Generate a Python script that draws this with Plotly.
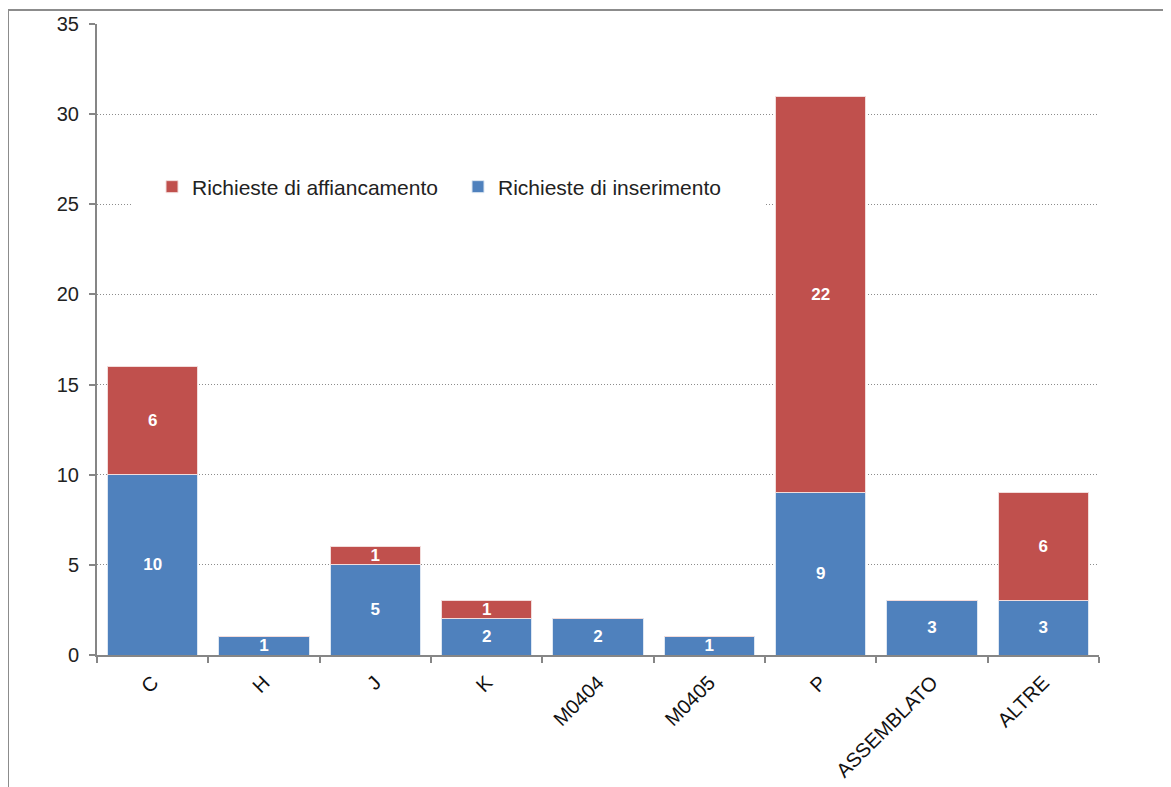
import plotly.graph_objects as go

categories = ["C", "H", "J", "K", "M0404", "M0405", "P", "ASSEMBLATO", "ALTRE"]
inserimento = [10, 1, 5, 2, 2, 1, 9, 3, 3]
affiancamento = [6, 0, 1, 1, 0, 0, 22, 0, 6]
y_ticks = [0, 5, 10, 15, 20, 25, 30, 35]

OFF = 8  # page body margin
W, H = 1171 - OFF, 787 - OFF
L, R, T, B = 97 - OFF, 72, 24 - OFF, 132
pw, ph = W - L - R, H - T - B

def sx(px):  # screen x -> paper
    return (px - OFF - L) / pw

def sy(py):  # screen y -> paper
    return (T + ph - (py - OFF)) / ph

def lbl(vals):
    return [str(v) if v else "" for v in vals]

txtfont = dict(color="white", size=17, family="Liberation Sans", weight="bold")

fig = go.Figure()
fig.add_trace(go.Bar(
    x=categories, y=inserimento, name="Richieste di inserimento",
    marker=dict(color="#4F81BD", line=dict(color="#DCE6F2", width=1)),
    text=lbl(inserimento), textposition="inside", insidetextanchor="middle",
    textangle=0, textfont=txtfont,
))
fig.add_trace(go.Bar(
    x=categories, y=affiancamento, name="Richieste di affiancamento",
    marker=dict(color="#C0504D", line=dict(color="#F2DCDB", width=1)),
    text=lbl(affiancamento), textposition="inside", insidetextanchor="middle",
    textangle=0, textfont=txtfont,
))

fig.update_layout(
    barmode="stack",
    bargap=0.19,
    width=W, height=H,
    margin=dict(l=L, r=R, t=T, b=B, autoexpand=False),
    paper_bgcolor="white", plot_bgcolor="white",
    font=dict(family="Liberation Sans", color="#222222"),
    uniformtext=dict(mode="show", minsize=17),
    showlegend=True,
    legend=dict(
        orientation="h", traceorder="reversed",
        x=sx(152), xanchor="left",
        y=sy(187), yanchor="middle",
        bgcolor="white", font=dict(size=21, color="#222222"),
        entrywidth=261, entrywidthmode="pixels",
    ),
    xaxis=dict(
        type="category",
        showline=True, linecolor="#868686", linewidth=2,
        ticks="outside", tickson="boundaries", ticklen=6, tickcolor="#868686", tickwidth=2,
        tickangle=-45, tickfont=dict(size=20, color="#111111"),
        ticklabelstandoff=6,
        showgrid=False,
    ),
    yaxis=dict(
        range=[0, 35], tickvals=y_ticks,
        showline=True, linecolor="#868686", linewidth=2,
        ticks="outside", ticklen=6, tickcolor="#868686", tickwidth=2,
        tickfont=dict(size=20, color="#222222"),
        ticklabelstandoff=6,
        showgrid=True, gridcolor="#8c8c8c", gridwidth=1, griddash="1px,2px",
        zeroline=False,
    ),
    shapes=[
        dict(type="rect", xref="paper", yref="paper", layer="above",
             x0=sx(133), x1=sx(738), y0=sy(165), y1=sy(212),
             fillcolor="white", line=dict(width=0)),
        dict(type="line", xref="paper", yref="paper",
             x0=sx(8), x1=sx(1200), y0=sy(10), y1=sy(10),
             line=dict(color="#8c8c8c", width=2)),
        dict(type="line", xref="paper", yref="paper",
             x0=sx(8), x1=sx(8), y0=sy(10), y1=sy(820),
             line=dict(color="#8c8c8c", width=2)),
    ],
)

fig.write_html("out.html")
